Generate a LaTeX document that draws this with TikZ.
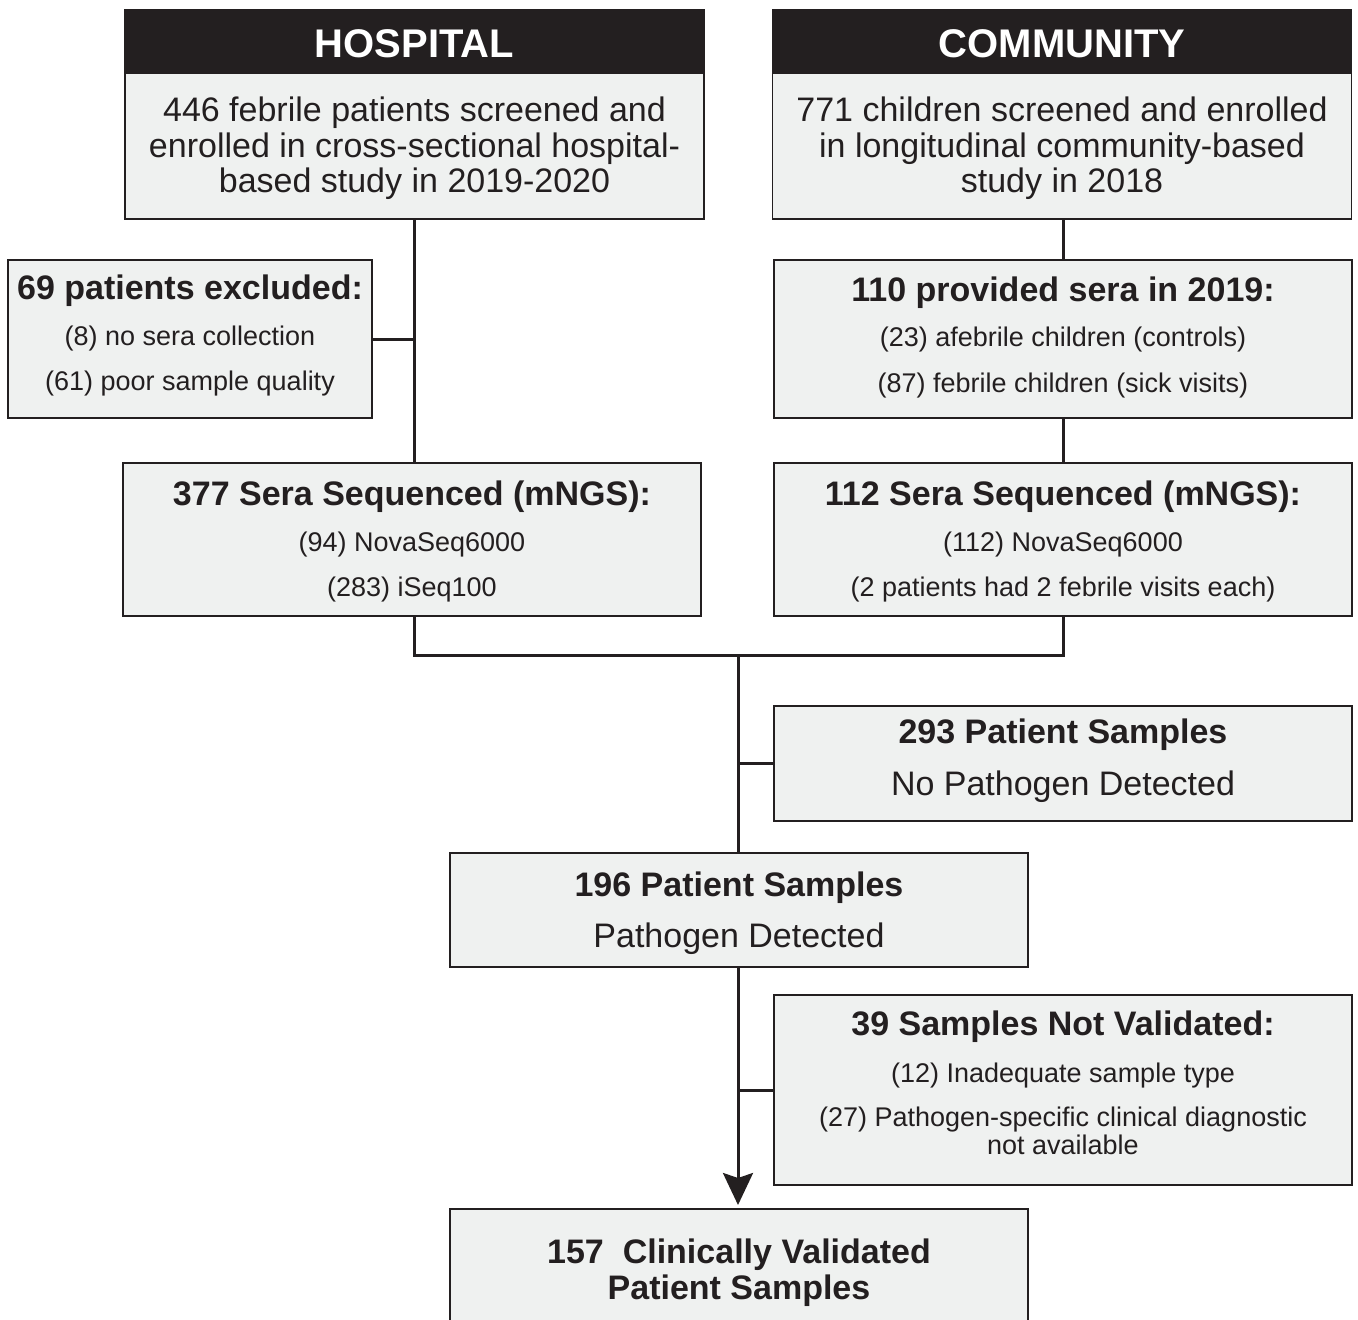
\documentclass[tikz,border=0pt]{standalone}
\usepackage{fontspec}
\setmainfont{Liberation Sans}
\usetikzlibrary{arrows.meta}
\definecolor{ink}{HTML}{231F20}
\definecolor{boxfill}{HTML}{EFF1F0}
\newcommand{\headfnt}{\fontsize{40}{44}\selectfont\bfseries}
\newcommand{\bigfnt}{\fontsize{34}{36}\selectfont}
\newcommand{\bigbfnt}{\fontsize{34}{36}\selectfont\bfseries}
\newcommand{\smallfnt}{\fontsize{27}{28}\selectfont}
\tikzset{
  box/.style={draw=ink, line width=1.6pt, fill=boxfill, inner sep=0pt, outer sep=0pt},
  headbox/.style={draw=ink, fill=ink, line width=1.6pt, inner sep=0pt, outer sep=0pt},
  headtxt/.style={anchor=base, font=\headfnt, text=white, inner sep=0pt},
  bigtxt/.style={anchor=base, font=\bigfnt, text=ink, inner sep=0pt},
  bigbtxt/.style={anchor=base, font=\bigbfnt, text=ink, inner sep=0pt},
  smalltxt/.style={anchor=base, font=\smallfnt, text=ink, inner sep=0pt},
  conn/.style={draw=ink, line width=3pt, line join=miter},
}
\begin{document}
\begin{tikzpicture}[x=1pt,y=-1pt]
\clip (0,0) rectangle (1358,1320);
\fill[white] (0,0) rectangle (1358,1320);

% boxes
\node[box, minimum width=579pt, minimum height=146pt] (hbody) at (414.5,146) {};
\node[headbox, minimum width=579pt, minimum height=63pt] (hhead) at (414.5,41.5) {};
\node[box, minimum width=579pt, minimum height=146pt] (cbody) at (1062,146) {};
\node[headbox, minimum width=579pt, minimum height=63pt] (chead) at (1062,41.5) {};
\node[box, minimum width=364pt, minimum height=158pt] (excl) at (190,339) {};
\node[box, minimum width=578pt, minimum height=158pt] (sera) at (1063,339) {};
\node[box, minimum width=578pt, minimum height=153pt] (seqh) at (412,539.5) {};
\node[box, minimum width=578pt, minimum height=153pt] (seqc) at (1063,539.5) {};
\node[box, minimum width=578pt, minimum height=115pt] (nopath) at (1063,763.5) {};
\node[box, minimum width=578pt, minimum height=114pt] (det) at (739,910) {};
\node[box, minimum width=578pt, minimum height=190pt] (notval) at (1063,1090) {};
\node[box, minimum width=578pt, minimum height=151pt] (val) at (739,1284.5) {};

% texts
\node[headtxt] (hh) at (414.5,57) {HOSPITAL};
\node[headtxt] (ch) at (1062,57) {COMMUNITY};

\node[bigtxt] (h1) at (414.5,121) {446 febrile patients screened and};
\node[bigtxt] (h2) at (414.5,157) {enrolled in cross-sectional hospital-};
\node[bigtxt] (h3) at (414.5,192) {based study in 2019-2020};

\node[bigtxt] (c1) at (1062,121) {771 children screened and enrolled};
\node[bigtxt] (c2) at (1062,157) {in longitudinal community-based};
\node[bigtxt] (c3) at (1062,192) {study in 2018};

\node[bigbtxt] (e1) at (190,299) {69 patients excluded:};
\node[smalltxt] (e2) at (190,345) {(8) no sera collection};
\node[smalltxt] (e3) at (190,390) {(61) poor sample quality};

\node[bigbtxt] (s1) at (1063,301) {110 provided sera in 2019:};
\node[smalltxt] (s2) at (1063,346) {(23) afebrile children (controls)};
\node[smalltxt] (s3) at (1063,392) {(87) febrile children (sick visits)};

\node[bigbtxt] (q1) at (412,505) {377 Sera Sequenced (mNGS):};
\node[smalltxt] (q2) at (412,551) {(94) NovaSeq6000};
\node[smalltxt] (q3) at (412,596) {(283) iSeq100};

\node[bigbtxt] (r1) at (1063,505) {112 Sera Sequenced (mNGS):};
\node[smalltxt] (r2) at (1063,551) {(112) NovaSeq6000};
\node[smalltxt] (r3) at (1063,596) {(2 patients had 2 febrile visits each)};

\node[bigbtxt] (n1) at (1063,743) {293 Patient Samples};
\node[bigtxt] (n2) at (1063,795) {No Pathogen Detected};

\node[bigbtxt] (d1) at (739,896) {196 Patient Samples};
\node[bigtxt] (d2) at (739,947) {Pathogen Detected};

\node[bigbtxt] (v1) at (1063,1035) {39 Samples Not Validated:};
\node[smalltxt] (v2) at (1063,1082) {(12) Inadequate sample type};
\node[smalltxt] (v3) at (1063,1126) {(27) Pathogen-specific clinical diagnostic};
\node[smalltxt] (v4) at (1063,1154) {not available};

\node[bigbtxt] (f1) at (739,1263) {157\ \ Clinically Validated};
\node[bigbtxt] (f2) at (739,1299) {Patient Samples};

% connectors
\coordinate (merge) at (738,655);
\draw[conn] (hbody.south) -- (hbody.south |- seqh.north);
\draw[conn] (excl.east) -- (excl.east -| hbody.south);
\draw[conn] (sera.north |- cbody.south) -- (sera.north);
\draw[conn] (sera.south) -- (seqc.north);
\draw[conn] (seqh.south -| hbody.south) |- (merge) -| (seqc.south);
\draw[conn] (merge) -- (merge |- det.north);
\draw[conn] (nopath.west) -- (nopath.west -| merge);
\draw[conn] (notval.west) -- (notval.west -| merge);
\draw[conn, -{Stealth[length=32pt, width=30pt, inset=5pt]}] (merge |- det.south) -- ([yshift=4pt]merge |- val.north);
\end{tikzpicture}
\end{document}
